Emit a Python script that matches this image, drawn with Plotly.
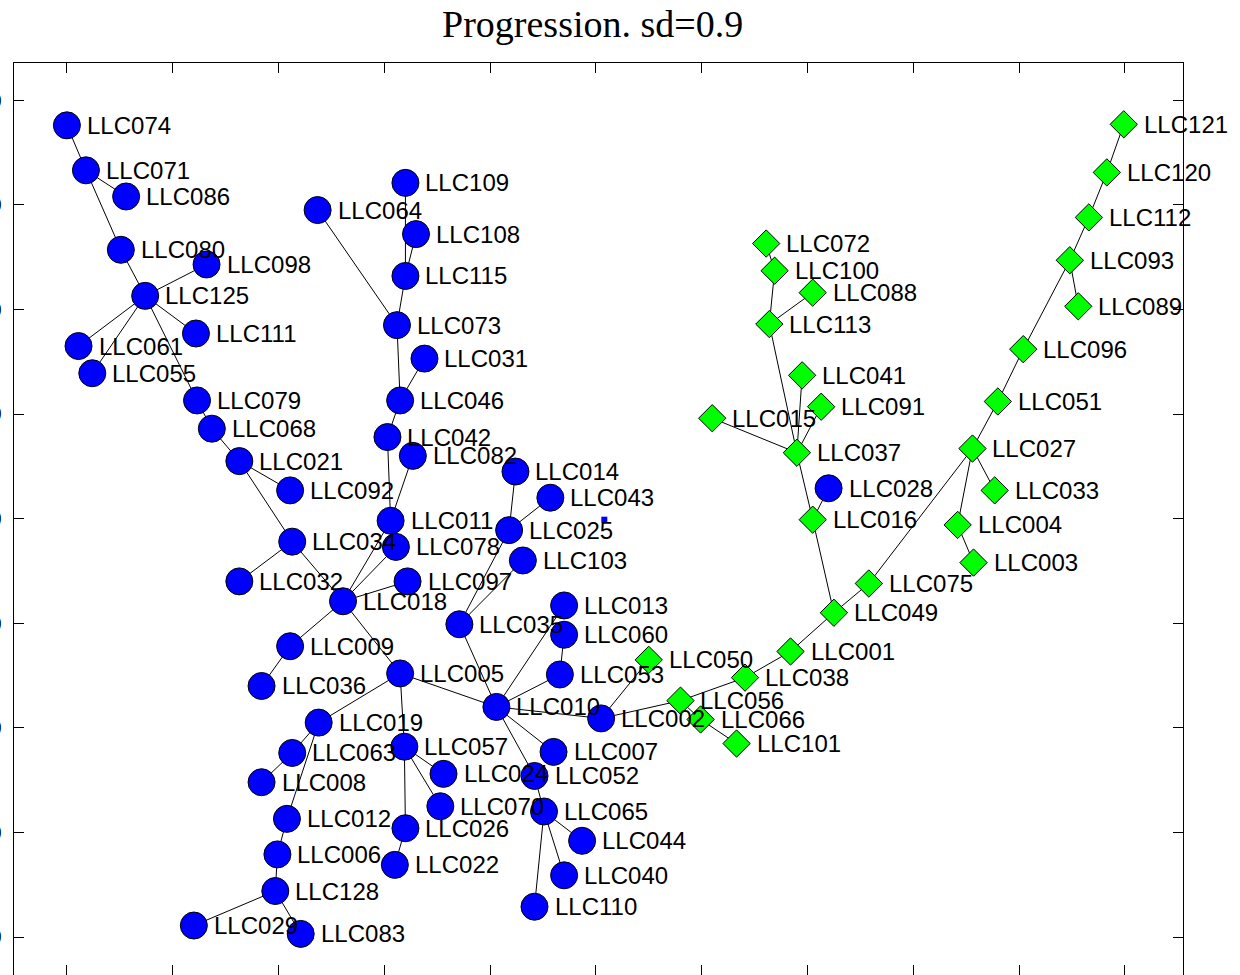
import plotly.graph_objects as go

# Node coordinates (chart units) for the two groups of samples
blue_names = ["LLC074", "LLC071", "LLC086", "LLC080", "LLC098", "LLC125", "LLC111", "LLC061",
              "LLC055", "LLC079", "LLC068", "LLC021", "LLC092", "LLC034", "LLC032", "LLC018",
              "LLC009", "LLC036", "LLC005", "LLC019", "LLC063", "LLC008", "LLC012", "LLC006",
              "LLC128", "LLC029", "LLC083", "LLC057", "LLC024", "LLC070", "LLC026", "LLC022",
              "LLC010", "LLC002", "LLC007", "LLC052", "LLC065", "LLC044", "LLC040", "LLC110",
              "LLC053", "LLC013", "LLC060", "LLC035", "LLC097", "LLC011", "LLC078", "LLC103",
              "LLC025", "LLC014", "LLC043", "LLC082", "LLC042", "LLC046", "LLC031", "LLC073",
              "LLC115", "LLC108", "LLC109", "LLC064", "LLC028"]
blue_x = [0.0, 1.8, 5.6, 5.1, 13.2, 7.4, 12.2, 1.1,
          2.4, 12.3, 13.7, 16.3, 21.1, 21.3, 16.3, 26.1,
          21.1, 18.4, 31.5, 23.8, 21.3, 18.4, 20.8, 19.9,
          19.7, 12.0, 22.1, 31.9, 35.6, 35.3, 32.0, 31.0,
          40.6, 50.5, 46.0, 44.2, 45.1, 48.7, 47.0, 44.2,
          46.6, 47.0, 47.0, 37.1, 32.2, 30.6, 31.1, 43.1,
          41.8, 42.4, 45.7, 32.7, 30.3, 31.5, 33.8, 31.2,
          32.0, 33.0, 32.0, 23.7, 72.0]
blue_y = [77.6, 73.3, 70.8, 65.7, 64.3, 61.3, 57.7, 56.5,
          53.9, 51.3, 48.6, 45.5, 42.7, 37.8, 34.0, 32.1,
          27.8, 24.0, 25.2, 20.5, 17.6, 14.8, 11.3, 7.9,
          4.4, 1.1, 0.3, 18.2, 15.6, 12.5, 10.4, 6.9,
          22.0, 20.9, 17.7, 15.4, 12.0, 9.2, 5.9, 2.9,
          25.1, 31.7, 28.9, 29.9, 34.0, 39.8, 37.3, 36.0,
          38.9, 44.5, 42.0, 46.0, 47.8, 51.3, 55.3, 58.5,
          63.2, 67.2, 72.1, 69.5, 42.9]

green_names = ["LLC121", "LLC120", "LLC112", "LLC093", "LLC089", "LLC096", "LLC051", "LLC027",
               "LLC033", "LLC004", "LLC003", "LLC075", "LLC049", "LLC001", "LLC038", "LLC056",
               "LLC066", "LLC101", "LLC050", "LLC072", "LLC100", "LLC088", "LLC113", "LLC041",
               "LLC091", "LLC015", "LLC037", "LLC016"]
green_x = [99.9, 98.3, 96.6, 94.8, 95.6, 90.4, 88.0, 85.6,
           87.7, 84.2, 85.7, 75.8, 72.5, 68.4, 64.1, 58.0,
           59.9, 63.3, 55.0, 66.1, 66.9, 70.5, 66.4, 69.5,
           71.3, 61.0, 69.0, 70.5]
green_y = [77.7, 73.1, 68.8, 64.7, 60.3, 56.2, 51.2, 46.7,
           42.7, 39.4, 35.8, 33.8, 31.0, 27.3, 24.8, 22.6,
           20.8, 18.5, 26.5, 66.3, 63.7, 61.6, 58.6, 53.7,
           50.7, 49.6, 46.3, 39.9]

# Unlabelled small point
dot_x = [50.8]
dot_y = [39.9]

edges = [
    ("LLC074", "LLC071"), ("LLC071", "LLC086"), ("LLC071", "LLC080"), ("LLC080", "LLC125"),
    ("LLC125", "LLC098"), ("LLC125", "LLC111"), ("LLC125", "LLC061"), ("LLC125", "LLC055"),
    ("LLC125", "LLC079"), ("LLC079", "LLC068"), ("LLC068", "LLC021"), ("LLC021", "LLC092"),
    ("LLC021", "LLC034"), ("LLC034", "LLC032"), ("LLC034", "LLC018"), ("LLC018", "LLC011"),
    ("LLC018", "LLC078"), ("LLC018", "LLC097"), ("LLC018", "LLC009"), ("LLC009", "LLC036"),
    ("LLC018", "LLC005"), ("LLC011", "LLC042"), ("LLC011", "LLC082"), ("LLC042", "LLC046"),
    ("LLC046", "LLC031"), ("LLC046", "LLC073"), ("LLC073", "LLC064"), ("LLC073", "LLC115"),
    ("LLC115", "LLC108"), ("LLC115", "LLC109"), ("LLC035", "LLC025"), ("LLC035", "LLC103"),
    ("LLC025", "LLC014"), ("LLC025", "LLC043"), ("LLC005", "LLC010"), ("LLC005", "LLC019"),
    ("LLC005", "LLC057"), ("LLC035", "LLC010"), ("LLC010", "LLC013"), ("LLC010", "LLC053"),
    ("LLC053", "LLC060"), ("LLC010", "LLC002"), ("LLC010", "LLC007"), ("LLC010", "LLC052"),
    ("LLC052", "LLC065"), ("LLC065", "LLC044"), ("LLC065", "LLC040"), ("LLC065", "LLC110"),
    ("LLC057", "LLC024"), ("LLC057", "LLC070"), ("LLC057", "LLC026"), ("LLC026", "LLC022"),
    ("LLC019", "LLC063"), ("LLC063", "LLC008"), ("LLC019", "LLC012"), ("LLC012", "LLC006"),
    ("LLC006", "LLC128"), ("LLC128", "LLC029"), ("LLC128", "LLC083"),
    ("LLC002", "LLC050"), ("LLC002", "LLC056"), ("LLC056", "LLC038"), ("LLC056", "LLC066"),
    ("LLC066", "LLC101"), ("LLC038", "LLC001"), ("LLC001", "LLC049"), ("LLC049", "LLC075"),
    ("LLC075", "LLC027"), ("LLC049", "LLC016"), ("LLC016", "LLC028"), ("LLC016", "LLC037"),
    ("LLC037", "LLC015"), ("LLC037", "LLC041"), ("LLC037", "LLC091"), ("LLC037", "LLC113"),
    ("LLC113", "LLC100"), ("LLC100", "LLC072"), ("LLC113", "LLC088"), ("LLC027", "LLC051"),
    ("LLC051", "LLC096"), ("LLC096", "LLC093"), ("LLC093", "LLC089"), ("LLC093", "LLC112"),
    ("LLC112", "LLC120"), ("LLC120", "LLC121"), ("LLC027", "LLC033"), ("LLC027", "LLC004"),
    ("LLC004", "LLC003"),
]

y_ticks = [0, 10, 20, 30, 40, 50, 60, 70, 80]
x_ticks = [0, 10, 20, 30, 40, 50, 60, 70, 80, 90, 100]

pos = {}
for n, x, y in zip(blue_names, blue_x, blue_y):
    pos[n] = (x, y)
for n, x, y in zip(green_names, green_x, green_y):
    pos[n] = (x, y)

ex, ey = [], []
for a, b in edges:
    ex += [pos[a][0], pos[b][0], None]
    ey += [pos[a][1], pos[b][1], None]

fig = go.Figure()
fig.add_trace(go.Scatter(x=ex, y=ey, mode="lines",
                         line=dict(color="black", width=1), hoverinfo="skip"))
fig.add_trace(go.Scatter(x=blue_x, y=blue_y, mode="markers", text=blue_names,
                         marker=dict(symbol="circle", size=27, color="#0000FF",
                                     line=dict(color="black", width=1))))
fig.add_trace(go.Scatter(x=green_x, y=green_y, mode="markers", text=green_names,
                         marker=dict(symbol="diamond", size=21, color="#00FF00",
                                     line=dict(color="black", width=1))))
fig.add_trace(go.Scatter(x=dot_x, y=dot_y, mode="markers",
                         marker=dict(symbol="square", size=6, color="#0000FF")))

annotations = []
for n, (x, y) in pos.items():
    annotations.append(dict(x=x, y=y, xref="x", yref="y", text=n, showarrow=False,
                            xanchor="left", yanchor="middle", xshift=18,
                            font=dict(family="Liberation Sans, Arial", size=24,
                                      color="black")))

axis_common = dict(showgrid=False, zeroline=False, showline=True, linecolor="black",
                   linewidth=1, mirror="ticks", ticks="inside", ticklen=10,
                   tickcolor="black", tickwidth=1, automargin=False)

fig.update_layout(
    width=1240, height=975,
    margin=dict(l=14, r=57, t=63, b=0),
    paper_bgcolor="white", plot_bgcolor="white",
    showlegend=False,
    title=dict(text="Progression. sd=0.9", x=0.495, xref="paper", xanchor="center",
               y=1 - 24 / 975, yref="container", yanchor="middle",
               font=dict(family="Liberation Serif, Times New Roman", size=38,
                         color="black")),
    xaxis=dict(range=[-5, 105.5], tickvals=x_ticks, showticklabels=False, **axis_common),
    yaxis=dict(range=[-3.63, 83.56], tickvals=y_ticks,
               ticktext=[str(v) for v in y_ticks], showticklabels=True,
               ticklabelstandoff=8,
               tickfont=dict(family="Liberation Serif", size=18, color="black"),
               **axis_common),
    annotations=annotations,
)

fig.write_html("out.html", config={"displayModeBar": False})
